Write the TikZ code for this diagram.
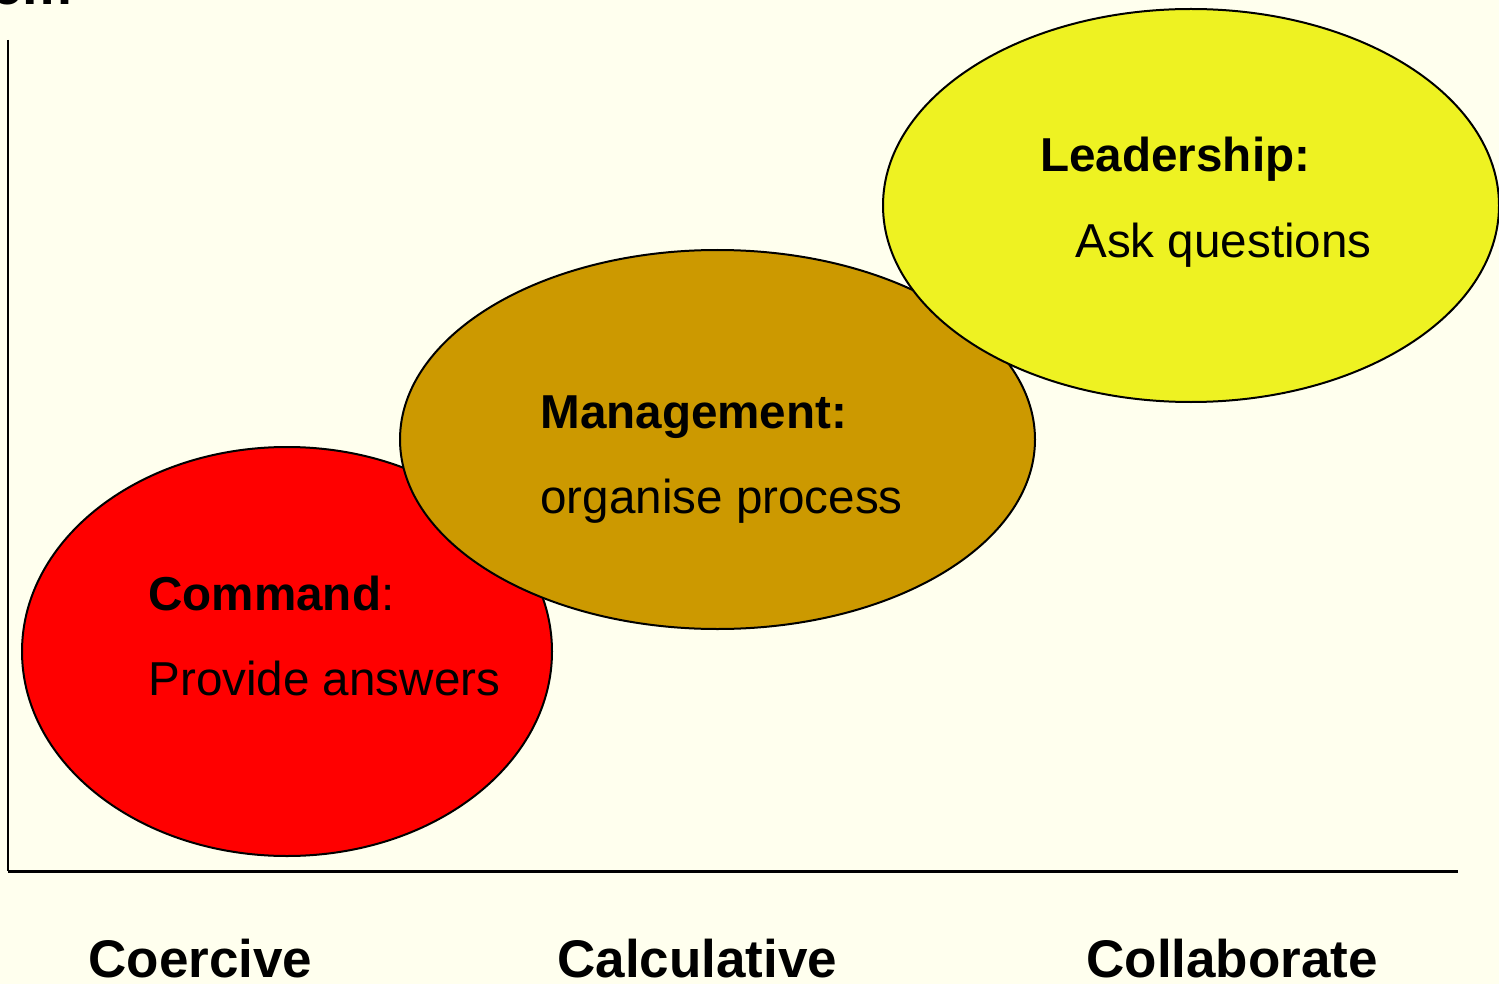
\documentclass[tikz,border=0pt]{standalone}
\usepackage{fontspec}
\setmainfont{Liberation Sans}
\definecolor{bgcream}{HTML}{FFFFEE}
\definecolor{cmdred}{HTML}{FF0000}
\definecolor{mgmtgold}{HTML}{CC9900}
\definecolor{leadyellow}{HTML}{EEF222}
\tikzset{
  blob/.style={draw=black, line width=1pt},
  bodytext/.style={anchor=base west, inner sep=0pt, font=\fontsize{23.8}{28}\selectfont},
  axislabel/.style={anchor=base west, inner sep=0pt, font=\fontsize{26.5}{32}\selectfont\bfseries},
  axisline/.style={draw=black}
}
\begin{document}
\begin{tikzpicture}[x=0.5pt, y=-0.5pt]
  \useasboundingbox[fill=bgcream] (0,0) rectangle (1499,984);
  % partially visible heading
  \node[anchor=base west, inner sep=0pt, font=\fontsize{28}{32}\selectfont\bfseries] (head) at (-9,5) {em};
  % axes
  \coordinate (ytop) at (8,40);
  \coordinate (orig) at (8,871);
  \coordinate (xend) at (1458,871);
  \draw[axisline, line width=1pt] (ytop) -- (orig);
  \draw[axisline, line width=1.5pt] (orig) -- (xend);
  % ellipses
  \draw[blob, fill=cmdred] (287,651.5) ellipse [x radius=132.5pt, y radius=102.25pt];
  \draw[blob, fill=mgmtgold] (717.5,439.5) ellipse [x radius=158.75pt, y radius=94.75pt];
  \draw[blob, fill=leadyellow] (1191,205.5) ellipse [x radius=154pt, y radius=98.25pt];
  % texts
  \node[bodytext] (cmd) at (148,610) {\textbf{Command}:};
  \node[bodytext] (cmdsub) at (148,695) {Provide answers};
  \node[bodytext] (mgmt) at (540,428) {\textbf{Management:}};
  \node[bodytext] (mgmtsub) at (540,513) {organise process};
  \node[bodytext] (lead) at (1040,172) {\textbf{Leadership:}};
  \node[bodytext] (leadsub) at (1075,257) {Ask questions};
  % axis labels
  \node[axislabel] (coer) at (88,977) {Coercive};
  \node[axislabel] (calc) at (557,977) {Calculative};
  \node[axislabel] (coll) at (1086,977) {Collaborate};
\end{tikzpicture}
\end{document}
